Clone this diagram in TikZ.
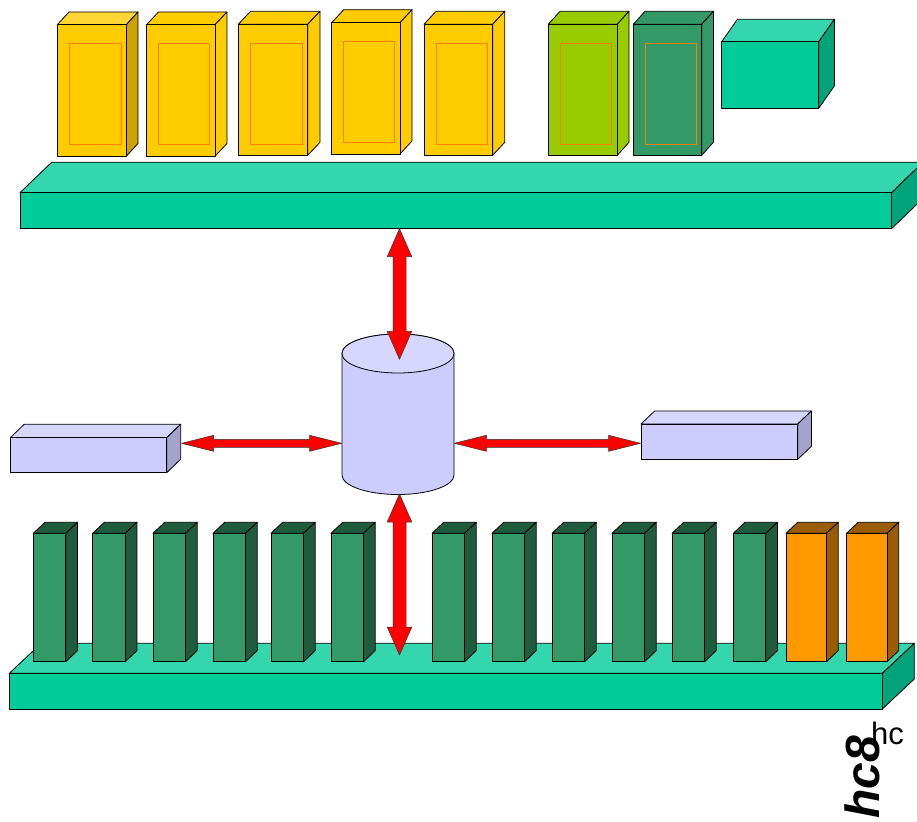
\documentclass[tikz,border=0pt]{standalone}
\usepackage{fontspec}
\setmainfont{Liberation Sans}
\usetikzlibrary{calc}
\definecolor{yel}{HTML}{FFCC00}
\definecolor{yeltop}{HTML}{FFD633}
\definecolor{yelside}{HTML}{CCA300}
\definecolor{innerorg}{HTML}{FF8000}
\definecolor{lime}{HTML}{99CC00}
\definecolor{sea}{HTML}{339966}
\definecolor{seadark}{HTML}{1F5C3D}
\definecolor{cyan1}{HTML}{00CC99}
\definecolor{cyantop}{HTML}{33D6AD}
\definecolor{cyanside}{HTML}{00A37A}
\definecolor{org}{HTML}{FF9900}
\definecolor{orgdark}{HTML}{995C00}
\definecolor{lav}{HTML}{CCCCFF}
\definecolor{lavtop}{HTML}{D6D6FF}
\definecolor{lavside}{HTML}{A3A3CC}
\newcommand\mycuboid[9]{%
  \filldraw[fill=#8] (#1,#2) -- ++(#5,-#6) -- ++(#3,0) -- ++(-#5,#6) -- cycle;
  \filldraw[fill=#9] (#1+#3,#2) -- ++(#5,-#6) -- ++(0,#4) -- ++(-#5,#6) -- cycle;
  \filldraw[fill=#7] (#1,#2) rectangle ++(#3,#4);}
\newcommand\innerrect[4]{\draw[draw=innerorg,line width=1pt] (#1+12,#2+19) rectangle (#1+#3-5.5,#2+#4-11);}
\newcommand\vdarrow[5]{%
  \filldraw[arrowsty] (#1) -- ($(#1)+(#4,#5)$) -- ($(#1)+(#3,#5)$) -- ($(#2)+(#3,-#5)$) -- ($(#2)+(#4,-#5)$) -- (#2)
   -- ($(#2)+(-#4,-#5)$) -- ($(#2)+(-#3,-#5)$) -- ($(#1)+(-#3,#5)$) -- ($(#1)+(-#4,#5)$) -- cycle;}
\newcommand\hdarrow[5]{%
  \filldraw[arrowsty] (#1) -- ($(#1)+(#5,#4)$) -- ($(#1)+(#5,#3)$) -- ($(#2)+(-#5,#3)$) -- ($(#2)+(-#5,#4)$) -- (#2)
   -- ($(#2)+(-#5,-#4)$) -- ($(#2)+(-#5,-#3)$) -- ($(#1)+(#5,-#3)$) -- ($(#1)+(#5,-#4)$) -- cycle;}
\begin{document}
\begin{tikzpicture}[x=1pt,y=-1pt,line join=round,line width=0.8pt,
  arrowsty/.style={fill=red,draw=black!80,line width=0.5pt}]
\useasboundingbox (0,0) rectangle (917,821);
% top bar
\mycuboid{20}{192.7}{871.5}{36}{31.7}{30.5}{cyan1}{cyantop}{cyanside}
% yellow boxes
\mycuboid{57.5}{24.5}{69}{131.5}{11.5}{12.5}{yel}{yeltop}{yelside}
\innerrect{57.5}{24.5}{69}{131.5}
\mycuboid{146.7}{24.5}{68.5}{131.5}{11.8}{12.5}{yel}{yel}{yel}
\innerrect{146.7}{24.5}{68.5}{131.5}
\mycuboid{238.3}{24.3}{69.4}{131}{12.3}{13}{yel}{yel}{yel}
\innerrect{238.3}{24.3}{69.4}{131}
\mycuboid{331.7}{22.7}{68.3}{131.3}{12}{13}{yel}{yel}{yel}
\innerrect{331.7}{22.7}{68.3}{131.3}
\mycuboid{424}{24.3}{68.7}{131}{12}{13}{yel}{yel}{yel}
\innerrect{424}{24.3}{68.7}{131}
% green boxes
\mycuboid{548.3}{24.3}{69}{131}{11.7}{13}{lime}{lime}{lime}
\innerrect{548.3}{24.3}{69}{131}
\mycuboid{633.3}{24.3}{68.4}{131}{11.7}{13}{sea}{sea}{sea}
\innerrect{633.3}{24.3}{68.4}{131}
\mycuboid{721.7}{41.7}{97}{66.6}{15.7}{22.4}{cyan1}{cyantop}{cyanside}
% bottom bar
\mycuboid{9.3}{673.3}{873}{35.7}{32}{30}{cyan1}{cyantop}{cyanside}
\foreach \bx in {33.3,92.7,153,213,271,331,432,492,552,612,672,733.3}
  {\mycuboid{\bx}{533.3}{32.5}{128.4}{11.7}{11}{sea}{seadark}{seadark}}
\foreach \bx in {786,846.5}
  {\mycuboid{\bx}{533.3}{40.5}{128.4}{11.7}{11}{org}{orgdark}{orgdark}}
% side boxes
\mycuboid{10.3}{437.7}{156.4}{35}{14}{13.5}{lav}{lavtop}{lavside}
\mycuboid{641}{424}{156.7}{35.3}{13.7}{13}{lav}{lavtop}{lavside}
% cylinder
\filldraw[fill=lav] (342,353.5) -- (342,475) arc[start angle=180,end angle=360,x radius=56pt,y radius=19.5pt]
  -- (454,353.5) arc[start angle=0,end angle=180,x radius=56pt,y radius=19.5pt] -- cycle;
\filldraw[fill=lavtop] (398,353.5) ellipse[x radius=56pt,y radius=19.5pt];
% named anchor points
\coordinate (topbar) at (399.5,228.7);
\coordinate (cyltop) at (399.5,359.3);
\coordinate (cylbot) at (399.5,494);
\coordinate (botbar) at (399.5,655);
\coordinate (cylleft) at (341.7,443.3);
\coordinate (cylright) at (454.3,443.3);
\coordinate (leftbox) at (181.7,443.3);
\coordinate (rightbox) at (640.5,443.3);
% arrows
\vdarrow{topbar}{cyltop}{6.5}{12.3}{28}
\vdarrow{cylbot}{botbar}{6.5}{12.3}{28}
\hdarrow{leftbox}{cylleft}{4}{8}{32}
\hdarrow{cylright}{rightbox}{4}{8}{32}
% text
\node[rotate=90,inner sep=0,font=\fontsize{48}{48}\selectfont\bfseries\itshape] (logo) at (862,777) {hc8};
\node[inner sep=0,font=\fontsize{31}{31}\selectfont] (logosup) at (887.5,733) {hc};
\end{tikzpicture}
\end{document}
